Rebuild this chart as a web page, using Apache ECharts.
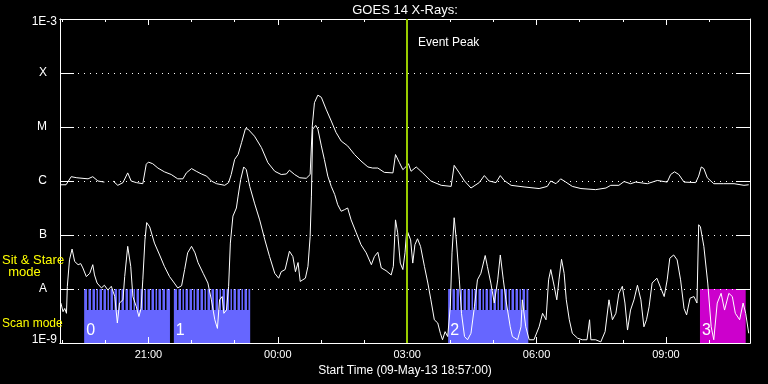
<!DOCTYPE html>
<html><head><meta charset="utf-8">
<script src="https://cdn.jsdelivr.net/npm/echarts@6/dist/echarts.min.js"></script>
<style>html,body{margin:0;padding:0;background:#000}#c{width:768px;height:384px}</style>
</head><body><div id="c"></div>
<script>
// time in hours after 00:00 on 09-May-13 (values > 24 are next day), flux as log10(W/m^2)
const longCurve = [[18.97,-6.07],[19.09,-6.07],[19.21,-5.92],[19.34,-5.94],[19.60,-5.96],[19.71,-5.92],[19.83,-6.00],[19.98,-6.02],[20.10,null],[20.18,-6.00],[20.29,-6.08],[20.41,-6.03],[20.52,-5.85],[20.60,-6.00],[20.72,-6.03],[20.87,-6.05],[20.95,-5.69],[21.00,-5.65],[21.10,-5.68],[21.22,-5.76],[21.37,-5.83],[21.53,-5.88],[21.68,-5.96],[21.80,-5.96],[21.88,-5.85],[22.00,-5.77],[22.11,-5.82],[22.23,-5.87],[22.35,-5.91],[22.46,-6.00],[22.58,-6.05],[22.77,-6.08],[22.86,-6.03],[22.92,-5.88],[23.00,-5.60],[23.08,-5.51],[23.16,-5.29],[23.25,-5.03],[23.31,-5.04],[23.46,-5.17],[23.62,-5.38],[23.77,-5.66],[23.93,-5.82],[24.08,-5.88],[24.20,-5.87],[24.27,-5.80],[24.39,-5.88],[24.51,-5.94],[24.66,-5.95],[24.75,-5.88],[24.80,-4.98],[24.85,-4.55],[24.93,-4.41],[25.01,-4.45],[25.12,-4.67],[25.24,-4.89],[25.35,-5.10],[25.47,-5.26],[25.62,-5.35],[25.78,-5.51],[25.93,-5.63],[26.09,-5.74],[26.20,-5.76],[26.32,-5.76],[26.47,-5.84],[26.67,-5.85],[26.73,-5.51],[26.82,-5.66],[26.90,-5.79],[26.98,-5.73],[27.03,-5.68],[27.09,-5.82],[27.21,-5.74],[27.36,-5.85],[27.55,-6.00],[27.79,-6.08],[28.02,-6.10],[28.09,-5.71],[28.21,-5.85],[28.33,-6.00],[28.48,-6.13],[28.67,-6.03],[28.79,-5.90],[28.90,-6.00],[29.06,-6.03],[29.16,-5.90],[29.25,-5.99],[29.41,-6.08],[29.71,-6.11],[30.06,-6.14],[30.25,-6.10],[30.33,-6.00],[30.45,-6.05],[30.56,-5.96],[30.68,-6.02],[30.83,-6.10],[31.03,-6.14],[31.37,-6.16],[31.61,-6.13],[31.72,-6.08],[31.91,-6.08],[32.03,-6.01],[32.18,-6.05],[32.30,-6.02],[32.57,-6.05],[32.80,-5.99],[33.03,-6.02],[33.11,-5.88],[33.20,-5.83],[33.30,-5.88],[33.42,-6.02],[33.69,-6.03],[33.76,-5.91],[33.82,-5.74],[33.88,-5.77],[33.96,-5.94],[34.11,-6.05],[34.34,-6.05],[34.58,-6.05],[34.81,-6.08],[34.92,-6.07]];
const shortCurve = [[18.97,-8.26],[19.02,-8.42],[19.06,-8.36],[19.10,-8.45],[19.12,-7.95],[19.17,-7.46],[19.23,-7.26],[19.29,-7.49],[19.37,-7.55],[19.43,-7.53],[19.48,-7.61],[19.56,-7.77],[19.64,-7.71],[19.71,-7.55],[19.75,-7.74],[19.81,-7.89],[19.91,-7.98],[19.98,-7.93],[20.06,-8.02],[20.14,-7.95],[20.22,-8.14],[20.28,-8.63],[20.33,-8.26],[20.41,-8.20],[20.45,-7.77],[20.52,-7.21],[20.59,-7.58],[20.64,-8.14],[20.72,-8.33],[20.78,-8.51],[20.83,-8.36],[20.87,-7.83],[20.92,-7.09],[20.96,-6.77],[21.03,-6.85],[21.14,-7.15],[21.26,-7.37],[21.37,-7.58],[21.49,-7.77],[21.60,-7.89],[21.68,-7.98],[21.77,-7.94],[21.84,-7.64],[21.91,-7.33],[22.00,-7.21],[22.08,-7.33],[22.15,-7.51],[22.27,-7.71],[22.38,-7.89],[22.46,-8.20],[22.54,-8.57],[22.60,-8.73],[22.65,-8.20],[22.71,-8.14],[22.75,-8.45],[22.81,-8.39],[22.86,-7.95],[22.90,-7.15],[22.96,-6.65],[23.04,-6.50],[23.08,-6.28],[23.14,-5.97],[23.21,-5.74],[23.27,-5.79],[23.35,-6.10],[23.46,-6.41],[23.58,-6.72],[23.70,-7.09],[23.81,-7.40],[23.93,-7.71],[24.02,-7.80],[24.08,-7.68],[24.17,-7.64],[24.27,-7.30],[24.35,-7.40],[24.41,-7.68],[24.47,-7.51],[24.52,-7.86],[24.58,-7.83],[24.64,-7.80],[24.70,-7.58],[24.75,-7.03],[24.78,-6.28],[24.81,-5.04],[24.88,-4.97],[24.93,-5.04],[25.01,-5.35],[25.08,-5.60],[25.16,-5.91],[25.24,-6.10],[25.32,-6.25],[25.39,-6.44],[25.47,-6.56],[25.55,-6.53],[25.62,-6.50],[25.70,-6.72],[25.82,-6.96],[25.93,-7.18],[26.05,-7.33],[26.17,-7.55],[26.24,-7.40],[26.32,-7.32],[26.40,-7.61],[26.51,-7.66],[26.63,-7.74],[26.68,-7.58],[26.73,-6.72],[26.78,-6.96],[26.84,-7.52],[26.90,-7.64],[26.95,-7.33],[26.99,-6.90],[27.03,-6.87],[27.08,-7.09],[27.13,-7.52],[27.18,-7.18],[27.24,-7.07],[27.31,-7.21],[27.40,-7.58],[27.48,-7.89],[27.55,-8.20],[27.63,-8.57],[27.71,-8.63],[27.77,-8.82],[27.82,-8.94],[27.88,-8.79],[27.94,-8.88],[28.00,-8.33],[28.04,-7.33],[28.09,-6.68],[28.14,-7.09],[28.21,-7.83],[28.26,-8.45],[28.33,-8.88],[28.40,-8.94],[28.48,-8.82],[28.56,-8.33],[28.63,-7.83],[28.71,-7.71],[28.81,-7.38],[28.86,-7.58],[28.94,-7.89],[29.02,-8.26],[29.10,-7.83],[29.16,-7.37],[29.23,-7.83],[29.29,-8.20],[29.39,-8.70],[29.44,-8.88],[29.56,-8.94],[29.64,-8.70],[29.67,-8.20],[29.75,-8.70],[29.83,-8.94],[29.94,-8.94],[30.06,-8.70],[30.14,-8.45],[30.22,-8.57],[30.28,-7.83],[30.33,-7.64],[30.41,-7.95],[30.47,-8.20],[30.52,-7.83],[30.58,-7.45],[30.64,-7.71],[30.69,-8.20],[30.76,-8.57],[30.83,-8.82],[30.95,-8.91],[31.06,-8.94],[31.17,-8.94],[31.23,-8.57],[31.26,-8.94],[31.37,-8.94],[31.49,-8.98],[31.59,-8.79],[31.68,-8.20],[31.76,-8.57],[31.84,-8.45],[31.91,-8.08],[31.99,-7.95],[32.05,-8.26],[32.11,-8.76],[32.18,-8.39],[32.26,-8.20],[32.34,-7.93],[32.42,-8.20],[32.49,-8.70],[32.55,-8.57],[32.61,-8.33],[32.68,-7.89],[32.79,-7.80],[32.88,-7.98],[32.96,-8.14],[33.03,-7.83],[33.09,-7.43],[33.18,-7.37],[33.26,-7.46],[33.34,-7.83],[33.42,-8.36],[33.48,-8.48],[33.56,-8.17],[33.65,-8.14],[33.72,-8.26],[33.76,-6.81],[33.80,-6.85],[33.88,-7.21],[33.97,-7.89],[34.05,-8.70],[34.11,-8.94],[34.19,-8.26],[34.28,-8.08],[34.36,-8.39],[34.46,-8.08],[34.54,-8.14],[34.61,-8.45],[34.71,-8.57],[34.79,-8.26],[34.85,-8.45],[34.92,-8.82]];

const levelExp = [-9, -8, -7, -6, -5, -4, -3];
const levelLabels = ['1E-9', 'A', 'B', 'C', 'M', 'X', '1E-3'];
const majorTicks = [21, 24, 27, 30, 33];
const tickLabels = ['21:00', '00:00', '03:00', '06:00', '09:00'];
const hourTicks = [19, 20, 21, 22, 23, 24, 25, 26, 27, 28, 29, 30, 31, 32, 33, 34];
const blockStart = [19.51, 21.59, 27.95, 33.79];
const blockEnd = [21.50, 23.36, 29.81, 34.85];
const blockLabels = ['0', '1', '2', '3'];
const blockType = ['scan', 'scan', 'scan', 'other'];
const eventPeak = [27.0];
const timeRange = [18.95, 34.95];
const fluxRange = [1e-9, 1e-3];
const blockFlux = [1e-8, 1e-9];

const toSeries = arr => arr.map(p => [p[0], p[1] === null ? '-' : Math.pow(10, p[1])]);
const FONT = 'Liberation Sans';

const chart = echarts.init(document.getElementById('c'), null, {renderer: 'canvas'});

function xAxisDef(position, ticks, len, withLabels) {
  return {
    type: 'value', position: position, min: timeRange[0], max: timeRange[1], z: 4,
    axisLine: {show: true, onZero: false, lineStyle: {color: '#fff', width: 1}},
    axisTick: {show: true, inside: true, length: len, customValues: ticks, lineStyle: {color: '#fff', width: 1}},
    axisLabel: withLabels ? {
      show: true, customValues: majorTicks, color: '#fff', fontSize: 11, fontFamily: FONT, margin: 6,
      formatter: v => tickLabels[majorTicks.findIndex(t => Math.abs(t - v) < 1e-6)]
    } : {show: false},
    splitLine: {show: false},
    name: withLabels ? 'Start Time (09-May-13 18:57:00)' : '',
    nameLocation: 'middle', nameGap: 18,
    nameTextStyle: {color: '#fff', fontSize: 12, fontFamily: FONT}
  };
}

const option = {
  backgroundColor: '#000',
  animation: false,
  grid: {left: 60, right: 18, top: 19, bottom: 41, containLabel: false},
  xAxis: [
    xAxisDef('bottom', majorTicks, 6, true),
    xAxisDef('bottom', hourTicks, 3, false),
    xAxisDef('top', majorTicks, 6, false),
    xAxisDef('top', hourTicks, 3, false)
  ],
  yAxis: [
    {
      type: 'log', logBase: 10, min: fluxRange[0], max: fluxRange[1], position: 'left', z: 4,
      axisLine: {show: true, onZero: false, lineStyle: {color: '#fff', width: 1}},
      axisTick: {show: true, inside: true, length: 14, lineStyle: {color: '#fff', width: 1}},
      axisLabel: {
        color: '#fff', fontSize: 12, fontFamily: FONT, margin: 3, align: 'right',
        formatter: v => {
          const e = Math.round(Math.log10(v));
          const i = levelExp.indexOf(e);
          if (i < 0) return '';
          const s = levelLabels[i];
          if (i === levelExp.length - 1) return '{t|' + s + '}';
          if (i === 0) return '{b|' + s + '}';
          return '{l|' + s + '}';
        },
        rich: {
          t: {color: '#fff', fontSize: 12, fontFamily: FONT, padding: [6, 0, 0, 0]},
          b: {color: '#fff', fontSize: 12, fontFamily: FONT, padding: [0, 0, 6, 0]},
          l: {color: '#fff', fontSize: 12, fontFamily: FONT, padding: [0, 10, 0, 0]}
        }
      },
      splitLine: {show: true, showMinLine: false, showMaxLine: false, lineStyle: {color: '#fff', width: 1, type: [1, 5]}}
    },
    {
      type: 'log', logBase: 10, min: fluxRange[0], max: fluxRange[1], position: 'right', z: 4,
      axisLine: {show: true, onZero: false, lineStyle: {color: '#fff', width: 1}},
      axisTick: {show: true, inside: true, length: 14, lineStyle: {color: '#fff', width: 1}},
      axisLabel: {show: false},
      splitLine: {show: false}
    }
  ],
  series: [
    {
      type: 'custom', name: 'modes', z: 1, xAxisIndex: 0, yAxisIndex: 0,
      data: blockStart.map((s, i) => [s, blockEnd[i], blockFlux[0], blockFlux[1], i]),
      encode: {x: [0, 1], y: [2, 3]},
      renderItem: (params, api) => {
        const i = api.value(4);
        const p0 = api.coord([api.value(0), api.value(2)]);
        const p1 = api.coord([api.value(1), api.value(3)]);
        const x0 = p0[0], y0 = p0[1], x1 = p1[0], y1 = p1[1];
        const scan = blockType[i] === 'scan';
        const children = [{
          type: 'rect', shape: {x: x0, y: y0, width: x1 - x0, height: y1 - y0},
          style: {fill: scan ? '#6666ff' : '#cc00cc'}
        }];
        if (scan) {
          for (let x = x0 + 3; x < x1 - 1.5; x += 3.7) {
            children.push({type: 'rect', shape: {x: Math.round(x), y: y0, width: 1.5, height: 21}, style: {fill: '#000'}});
          }
        }
        children.push({
          type: 'text', x: x0 + 2, y: y1 - 4,
          style: {text: blockLabels[i], fill: '#fff', font: '16px ' + FONT, align: 'left', verticalAlign: 'bottom'}
        });
        return {type: 'group', children: children};
      }
    },
    {
      type: 'line', name: 'long', z: 3, data: toSeries(longCurve), showSymbol: false, symbol: 'none',
      connectNulls: false, lineStyle: {color: '#fff', width: 1}
    },
    {
      type: 'line', name: 'short', z: 3, data: toSeries(shortCurve), showSymbol: false, symbol: 'none',
      connectNulls: false, lineStyle: {color: '#fff', width: 1}
    },
    {
      type: 'line', name: 'peak', z: 6, data: [],
      markLine: {
        silent: true, symbol: ['none', 'none'], label: {show: false},
        lineStyle: {color: '#99cc00', width: 2, type: 'solid'},
        data: eventPeak.map(t => ({xAxis: t}))
      }
    }
  ],
  graphic: [
    {type: 'text', z: 10, x: 405, y: 10, style: {text: 'GOES 14 X-Rays:', fill: '#fff', font: '13px ' + FONT, align: 'center', verticalAlign: 'middle'}},
    {type: 'text', z: 10, x: 418, y: 43, style: {text: 'Event Peak', fill: '#fff', font: '12px ' + FONT, align: 'left', verticalAlign: 'middle'}},
    {type: 'text', z: 10, x: 2, y: 260, style: {text: 'Sit & Stare', fill: '#ffff00', font: '13px ' + FONT, align: 'left', verticalAlign: 'middle'}},
    {type: 'text', z: 10, x: 24.5, y: 272, style: {text: 'mode', fill: '#ffff00', font: '13px ' + FONT, align: 'center', verticalAlign: 'middle'}},
    {type: 'text', z: 10, x: 2, y: 324, style: {text: 'Scan mode', fill: '#ffff00', font: '12px ' + FONT, align: 'left', verticalAlign: 'middle'}}
  ]
};
chart.setOption(option);
</script></body></html>
